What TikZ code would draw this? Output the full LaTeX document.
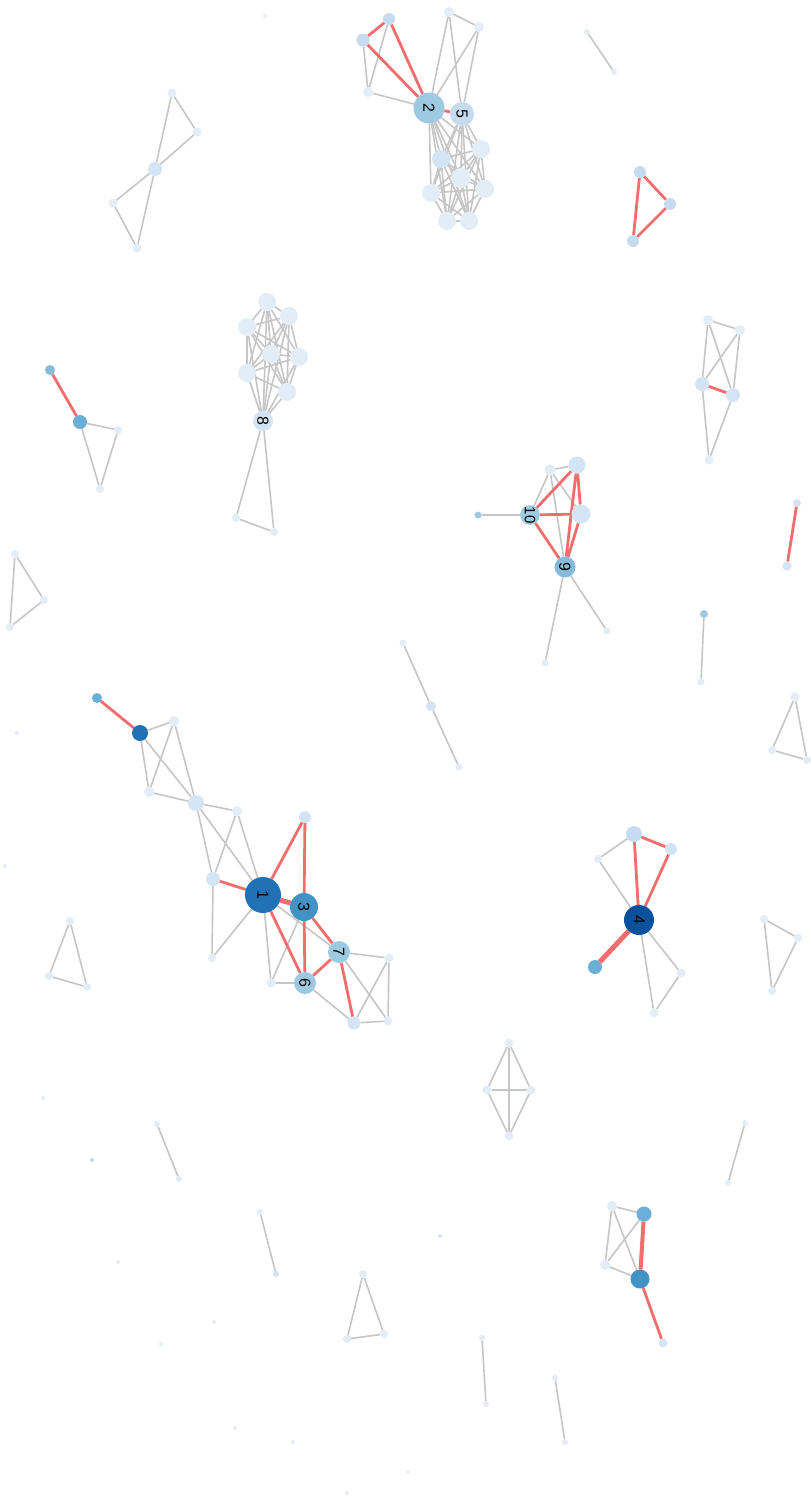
\documentclass[tikz,border=0pt]{standalone}
\usepackage{fontspec}
\setmainfont{Liberation Sans}
\usetikzlibrary{backgrounds}
\definecolor{c0}{HTML}{E2EDF8}
\definecolor{c1}{HTML}{D3E4F4}
\definecolor{c2}{HTML}{C6DBEF}
\definecolor{c3}{HTML}{9ECAE1}
\definecolor{c35}{HTML}{85BCDC}
\definecolor{c4}{HTML}{6BAED6}
\definecolor{c5}{HTML}{4292C6}
\definecolor{c6}{HTML}{2171B5}
\definecolor{c7}{HTML}{08519C}
\definecolor{eg}{HTML}{C6C6C6}
\definecolor{er}{HTML}{F26D6D}
\tikzset{
  nd/.style 2 args={circle,inner sep=0pt,outer sep=0pt,minimum size=#1pt,fill=#2},
  lab/.style={rotate=-90,font=\fontsize{16}{16}\selectfont,text=black},
  ge/.style={draw=eg,line width=1.6pt},
  re/.style={draw=er,line width=2.8pt},
  rt/.style={draw=er,line width=5pt}}
\begin{document}
\begin{tikzpicture}[x=1pt,y=-1pt]
\useasboundingbox (0,0) rectangle (811,1500);
% ---- top cluster
\node[nd={12}{c2}] (a1) at (389,19) {};
\node[nd={13}{c2}] (a2) at (363,40) {};
\node[nd={10}{c0}] (a3) at (368,92) {};
\node[nd={10}{c0}] (b1) at (449,12) {};
\node[nd={10}{c0}] (b2) at (479,27) {};
\node[nd={18}{c1}] (d1) at (441,159) {};
\node[nd={18}{c0}] (d2) at (481,149) {};
\node[nd={20}{c0}] (d3) at (461,178) {};
\node[nd={18}{c0}] (d4) at (485,189) {};
\node[nd={18}{c0}] (d5) at (431,193) {};
\node[nd={18}{c0}] (d6) at (447,221) {};
\node[nd={18}{c0}] (d7) at (469,221) {};
\node[nd={31}{c3},lab] (n2) at (429,108) {2};
\node[nd={24}{c2},lab] (n5) at (462,114) {5};
\node[nd={4}{c0}] (t1) at (265,16) {};
\node[nd={6}{c0}] (l1a) at (587,32) {};
\node[nd={6}{c0}] (l1b) at (614,72) {};
% ---- bowtie
\node[nd={9}{c0}] (w1) at (172,93) {};
\node[nd={9}{c0}] (w2) at (197,132) {};
\node[nd={14}{c1}] (w3) at (155,169) {};
\node[nd={9}{c0}] (w4) at (113,203) {};
\node[nd={9}{c0}] (w5) at (137,248) {};
% ---- red triangle
\node[nd={12}{c2}] (r1) at (640,172) {};
\node[nd={12}{c2}] (r2) at (670,204) {};
\node[nd={12}{c2}] (r3) at (633,241) {};
% ---- right cluster
\node[nd={10}{c0}] (q1) at (708,320) {};
\node[nd={10}{c0}] (q2) at (740,330) {};
\node[nd={14}{c1}] (q3) at (702,384) {};
\node[nd={14}{c1}] (q4) at (733,395) {};
\node[nd={9}{c0}] (q5) at (709,460) {};
% ---- node 8 cluster
\node[nd={18}{c0}] (e1) at (267,302) {};
\node[nd={18}{c0}] (e2) at (289,316) {};
\node[nd={18}{c0}] (e3) at (247,327) {};
\node[nd={18}{c0}] (e4) at (271,354) {};
\node[nd={18}{c0}] (e5) at (299,357) {};
\node[nd={18}{c0}] (e6) at (247,373) {};
\node[nd={18}{c0}] (e7) at (287,392) {};
\node[nd={20}{c1},lab] (n8) at (263,421) {8};
\node[nd={8}{c0}] (f1) at (236,518) {};
\node[nd={8}{c0}] (f2) at (274,532) {};
% ---- left
\node[nd={10}{c35}] (g1) at (50,370) {};
\node[nd={14}{c4}] (g2) at (80,422) {};
\node[nd={8}{c0}] (g3) at (118,430) {};
\node[nd={8}{c0}] (g4) at (100,489) {};
\node[nd={8}{c0}] (h1) at (15,554) {};
\node[nd={8}{c0}] (h2) at (44,600) {};
\node[nd={8}{c0}] (h3) at (10,627) {};
% ---- 9/10 cluster
\node[nd={11}{c0}] (k1) at (550,470) {};
\node[nd={17}{c1}] (k2) at (577,465) {};
\node[nd={19}{c1}] (k3) at (581,514) {};
\node[nd={7}{c3}] (k4) at (478,515) {};
\node[nd={7}{c0}] (k5) at (607,631) {};
\node[nd={7}{c0}] (k6) at (545,663) {};
\node[nd={19}{c3},lab,font=\fontsize{15}{15}\selectfont] (n10) at (530,515) {10};
\node[nd={21}{c35},lab] (n9) at (565,567) {9};
% ---- right singles
\node[nd={8}{c1}] (s1) at (797,503) {};
\node[nd={9}{c1}] (s2) at (787,566) {};
\node[nd={8}{c3}] (u1) at (704,614) {};
\node[nd={7}{c0}] (u2) at (701,682) {};
\node[nd={9}{c0}] (v1) at (795,697) {};
\node[nd={8}{c0}] (v2) at (772,750) {};
\node[nd={8}{c0}] (v3) at (807,760) {};
\node[nd={7}{c0}] (m1) at (403,643) {};
\node[nd={10}{c1}] (m2) at (431,706) {};
\node[nd={7}{c0}] (m3) at (459,767) {};
\node[nd={4}{c0}] (t2) at (17,733) {};
\node[nd={4}{c0}] (t3) at (5,866) {};
% ---- node 1 cluster
\node[nd={10}{c4}] (p1) at (97,698) {};
\node[nd={16}{c6}] (p2) at (140,733) {};
\node[nd={10}{c0}] (p3) at (174,721) {};
\node[nd={10}{c0}] (p4) at (149,792) {};
\node[nd={16}{c1}] (p5) at (196,803) {};
\node[nd={10}{c0}] (p6) at (237,811) {};
\node[nd={12}{c1}] (p7) at (305,817) {};
\node[nd={14}{c1}] (p8) at (213,879) {};
\node[nd={8}{c0}] (p9) at (212,958) {};
\node[nd={9}{c0}] (p10) at (389,958) {};
\node[nd={9}{c0}] (p11) at (271,983) {};
\node[nd={13}{c1}] (p12) at (354,1023) {};
\node[nd={9}{c0}] (p13) at (388,1021) {};
\node[nd={36}{c6},lab] (n1) at (263,895) {1};
\node[nd={28}{c5},lab] (n3) at (304,907) {3};
\node[nd={22}{c3},lab] (n7) at (339,952) {7};
\node[nd={22}{c3},lab] (n6) at (305,983) {6};
% ---- node 4 cluster
\node[nd={16}{c2}] (o1) at (634,834) {};
\node[nd={12}{c1}] (o2) at (671,849) {};
\node[nd={8}{c0}] (o3) at (598,859) {};
\node[nd={14}{c4}] (o4) at (595,967) {};
\node[nd={9}{c0}] (o5) at (681,973) {};
\node[nd={9}{c0}] (o6) at (654,1013) {};
\node[nd={30}{c7},lab] (n4) at (639,920) {4};
% ---- lower triangles and diamond
\node[nd={8}{c0}] (i1) at (70,921) {};
\node[nd={8}{c0}] (i2) at (49,976) {};
\node[nd={8}{c0}] (i3) at (87,987) {};
\node[nd={8}{c0}] (j1) at (764,919) {};
\node[nd={8}{c0}] (j2) at (798,938) {};
\node[nd={8}{c0}] (j3) at (772,991) {};
\node[nd={9}{c0}] (x1) at (509,1043) {};
\node[nd={9}{c0}] (x2) at (487,1090) {};
\node[nd={9}{c0}] (x3) at (531,1090) {};
\node[nd={9}{c0}] (x4) at (509,1136) {};
% ---- bottom
\node[nd={6}{c0}] (y1a) at (157,1124) {};
\node[nd={6}{c0}] (y1b) at (179,1179) {};
\node[nd={6}{c0}] (y2a) at (260,1212) {};
\node[nd={6}{c1}] (y2b) at (276,1274) {};
\node[nd={8}{c0}] (y3a) at (363,1274) {};
\node[nd={8}{c0}] (y3b) at (347,1339) {};
\node[nd={8}{c0}] (y3c) at (384,1334) {};
\node[nd={6}{c0}] (y4a) at (482,1338) {};
\node[nd={6}{c0}] (y4b) at (486,1404) {};
\node[nd={6}{c0}] (y5a) at (555,1378) {};
\node[nd={6}{c0}] (y5b) at (565,1442) {};
\node[nd={6}{c0}] (y6a) at (745,1123) {};
\node[nd={6}{c0}] (y6b) at (728,1183) {};
\node[nd={10}{c0}] (z1) at (612,1206) {};
\node[nd={15}{c4}] (z2) at (644,1214) {};
\node[nd={10}{c0}] (z3) at (605,1265) {};
\node[nd={19}{c5}] (z4) at (640,1279) {};
\node[nd={9}{c1}] (z5) at (663,1343) {};
\node[nd={4}{c0}] (t4) at (43,1098) {};
\node[nd={4}{c2}] (t5) at (92,1160) {};
\node[nd={4}{c0}] (t6) at (118,1262) {};
\node[nd={4}{c1}] (t7) at (440,1236) {};
\node[nd={4}{c0}] (t8) at (214,1322) {};
\node[nd={4}{c0}] (t9) at (161,1344) {};
\node[nd={4}{c0}] (t10) at (235,1428) {};
\node[nd={4}{c0}] (t11) at (293,1442) {};
\node[nd={4}{c0}] (t12) at (408,1472) {};
\node[nd={4}{c0}] (t13) at (347,1493) {};
% ================= edges
\begin{scope}[on background layer]
\fill[white] (0,0) rectangle (811,1500);
% top
\draw[ge] (a2)--(a3) (a1)--(a3) (a3)--(n2) (b1)--(b2) (b1)--(n2) (b1)--(n5) (b2)--(n2) (b2)--(n5);
\foreach \u/\v in {n2/d1,n2/d2,n2/d3,n2/d4,n2/d5,n2/d6,n2/d7,n5/d1,n5/d2,n5/d3,n5/d4,n5/d5,n5/d6,n5/d7,
 d1/d2,d1/d3,d1/d4,d1/d5,d1/d6,d1/d7,d2/d3,d2/d4,d2/d5,d2/d6,d2/d7,d3/d4,d3/d5,d3/d6,d3/d7,
 d4/d5,d4/d6,d4/d7,d5/d6,d5/d7,d6/d7} \draw[ge] (\u)--(\v);
\draw[re] (a1)--(a2) (a2)--(n2) (a1)--(n2) (n2)--(n5);
\draw[ge] (l1a)--(l1b);
% bowtie
\draw[ge] (w1)--(w2) (w1)--(w3) (w2)--(w3) (w3)--(w4) (w3)--(w5) (w4)--(w5);
% red triangle
\draw[re] (r1)--(r2) (r2)--(r3) (r3)--(r1);
% right cluster
\draw[ge] (q1)--(q2) (q1)--(q3) (q1)--(q4) (q2)--(q3) (q2)--(q4) (q3)--(q5) (q4)--(q5);
\draw[re] (q3)--(q4);
% node 8
\foreach \u/\v in {e1/e2,e1/e3,e1/e4,e1/e5,e1/e6,e1/e7,e1/n8,e2/e3,e2/e4,e2/e5,e2/e6,e2/e7,e2/n8,
 e3/e4,e3/e5,e3/e6,e3/e7,e3/n8,e4/e5,e4/e6,e4/e7,e4/n8,e5/e6,e5/e7,e5/n8,e6/e7,e6/n8,e7/n8}
 \draw[ge] (\u)--(\v);
\draw[ge] (n8)--(f1) (n8)--(f2) (f1)--(f2);
% left
\draw[re] (g1)--(g2);
\draw[ge] (g2)--(g3) (g2)--(g4) (g3)--(g4);
\draw[ge] (h1)--(h2) (h2)--(h3) (h3)--(h1);
% 9/10
\draw[ge] (k1)--(k2) (k1)--(n10) (k1)--(n9) (k1)--(k3) (n10)--(k4) (n9)--(k5) (n9)--(k6);
\draw[re] (n10)--(k2) (n10)--(k3) (n10)--(n9) (k2)--(k3) (k2)--(n9) (k3)--(n9);
% right singles
\draw[re] (s1)--(s2);
\draw[ge] (u1)--(u2);
\draw[ge] (v1)--(v2) (v2)--(v3) (v1)--(v3);
\draw[ge] (m1)--(m2) (m2)--(m3);
% node 1 cluster
\draw[re] (p1)--(p2);
\draw[ge] (p2)--(p3) (p2)--(p4) (p2)--(p5) (p3)--(p4) (p3)--(p5) (p4)--(p5)
 (p5)--(p6) (p5)--(p8) (p5)--(n1) (p6)--(p8) (p6)--(n1) (p8)--(p9) (p9)--(n1)
 (n1)--(p11) (n1)--(n7) (n3)--(p11) (n6)--(p11) (n6)--(p12) (n7)--(p10) (n7)--(p13)
 (p10)--(p12) (p10)--(p13) (p12)--(p13);
\draw[re] (p8)--(n1) (p7)--(n1) (p7)--(n3) (n1)--(n6) (n3)--(n7) (n3)--(n6) (n6)--(n7) (n7)--(p12);
\draw[rt] (n1)--(n3);
% node 4
\draw[ge] (o1)--(o3) (o3)--(n4) (n4)--(o5) (n4)--(o6) (o5)--(o6);
\draw[re] (o1)--(o2) (o1)--(n4) (o2)--(n4);
\draw[rt] (n4)--(o4);
% lower triangles, diamond
\draw[ge] (i1)--(i2) (i2)--(i3) (i3)--(i1);
\draw[ge] (j1)--(j2) (j1)--(j3) (j2)--(j3);
\draw[ge] (x1)--(x2) (x1)--(x3) (x1)--(x4) (x2)--(x3) (x2)--(x4) (x3)--(x4);
% bottom
\draw[ge] (y1a)--(y1b) (y2a)--(y2b) (y3a)--(y3b) (y3b)--(y3c) (y3c)--(y3a)
 (y4a)--(y4b) (y5a)--(y5b) (y6a)--(y6b);
\draw[ge] (z1)--(z2) (z1)--(z3) (z1)--(z4) (z2)--(z3) (z3)--(z4);
\draw[rt,line width=4pt] (z2)--(z4);
\draw[re] (z4)--(z5);
\end{scope}
\end{tikzpicture}
\end{document}
